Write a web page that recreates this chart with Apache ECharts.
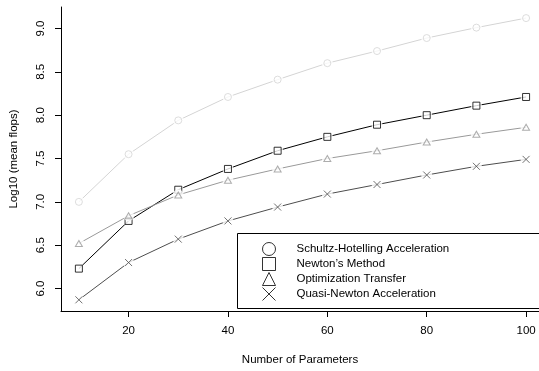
<!DOCTYPE html>
<html>
<head>
  <meta charset="UTF-8">
  <title>flops</title>
  <script src="https://cdn.jsdelivr.net/npm/echarts/dist/echarts.min.js"></script>
</head>
<body style="margin: 0; background: #fff;">
  <div id="main" style="width: 539px; height: 371px;"></div>
  <script type="text/javascript">
    // number of parameters
    var params = [10, 20, 30, 40, 50, 60, 70, 80, 90, 100];
    var xTicks = [20, 40, 60, 80, 100];
    var yTicks = [6.0, 6.5, 7.0, 7.5, 8.0, 8.5, 9.0];

    // log10 mean flops
    var schultz = [7.00, 7.55, 7.94, 8.21, 8.41, 8.60, 8.74, 8.89, 9.01, 9.12];
    var newton = [6.23, 6.78, 7.14, 7.38, 7.59, 7.75, 7.89, 8.00, 8.11, 8.21];
    var optTransfer = [6.52, 6.84, 7.08, 7.25, 7.38, 7.50, 7.59, 7.69, 7.78, 7.86];
    var quasiNewton = [5.87, 6.30, 6.57, 6.78, 6.94, 7.09, 7.20, 7.31, 7.41, 7.49];

    var names = ['Schultz-Hotelling Acceleration', "Newton\u2019s Method", 'Optimization Transfer', 'Quasi-Newton Acceleration'];
    var values = [schultz, newton, optTransfer, quasiNewton];
    var colors = ['#d4d4d4', '#000000', '#999999', '#4d4d4d'];
    var crossPath = 'path://M0,0L10,10M0,10L10,0';
    var symbols = ['circle', 'rect', 'triangle', crossPath];
    var font = 'Liberation Sans, Arial, sans-serif';

    var chart = echarts.init(document.getElementById('main'));

    var series = [];
    values.forEach(function (vals, i) {
      var pts = params.map(function (p, j) { return [p, vals[j]]; });
      // connecting line
      series.push({
        name: names[i] + '_line',
        type: 'line',
        data: pts,
        showSymbol: false,
        silent: true,
        z: 2 + i * 3,
        lineStyle: { color: colors[i], width: 1 }
      });
      // white disc makes the gap around each point
      series.push({
        name: names[i] + '_gap',
        type: 'scatter',
        data: pts,
        symbol: 'circle',
        symbolSize: 11,
        silent: true,
        z: 3 + i * 3,
        itemStyle: { color: '#fff' }
      });
      series.push({
        name: names[i],
        type: 'scatter',
        data: pts,
        symbol: symbols[i],
        symbolSize: i === 2 ? [7, 6] : 7,
        z: 4 + i * 3,
        itemStyle: { color: 'rgba(255,255,255,0)', borderColor: colors[i], borderWidth: 1 }
      });
    });

    var option = {
      animation: false,
      textStyle: { fontFamily: font },
      grid: { left: 60, top: 7, right: 0, bottom: 53 },
      xAxis: {
        type: 'value',
        min: 6.4,
        max: 102.6,
        name: 'Number of Parameters',
        nameLocation: 'middle',
        nameGap: 43,
        nameTextStyle: { fontSize: 11.5, color: '#000', fontFamily: font },
        splitLine: { show: false },
        axisLine: { lineStyle: { color: '#000', width: 1 } },
        axisTick: { customValues: xTicks, length: 6, lineStyle: { color: '#000' } },
        axisLabel: { customValues: xTicks, fontSize: 11.5, color: '#000', margin: 14, fontFamily: font }
      },
      yAxis: {
        type: 'value',
        min: 5.741,
        max: 9.248,
        name: 'Log10 (mean flops)',
        nameLocation: 'middle',
        nameGap: 41,
        nameRotate: 90,
        nameTextStyle: { fontSize: 11.5, color: '#000', fontFamily: font },
        splitLine: { show: false },
        axisLine: { lineStyle: { color: '#000', width: 1 } },
        axisTick: { customValues: yTicks, length: 6, lineStyle: { color: '#000' } },
        axisLabel: {
          customValues: yTicks,
          rotate: 90,
          fontSize: 11.5,
          color: '#000',
          margin: 14,
          fontFamily: font,
          formatter: function (v) { return v.toFixed(1); }
        }
      },
      legend: {
        data: names.map(function (n, i) {
          return {
            name: n,
            icon: symbols[i],
            itemStyle: { color: '#fff', borderColor: '#000', borderWidth: 1 }
          };
        }),
        orient: 'vertical',
        left: 262,
        top: 242,
        itemWidth: 13,
        itemHeight: 13,
        itemGap: 1,
        padding: 0,
        textStyle: { fontSize: 11.5, color: '#000', fontFamily: font, padding: [0, 0, 0, 16] }
      },
      graphic: [{
        type: 'rect',
        shape: { x: 237.5, y: 233.5, width: 305, height: 75 },
        style: { fill: 'none', stroke: '#000', lineWidth: 1 },
        z: 100
      }],
      series: series
    };

    chart.setOption(option);
  </script>
</body>
</html>
